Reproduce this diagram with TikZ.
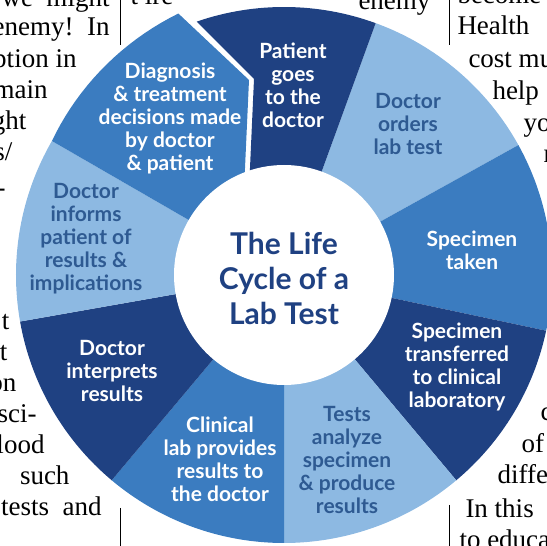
\documentclass[tikz,border=0pt]{standalone}
\usepackage{fontspec}
\setmainfont{Liberation Serif}
\newfontfamily\labfont{Lato}
\definecolor{navy}{RGB}{31,65,130}
\definecolor{mid}{RGB}{59,124,192}
\definecolor{pale}{RGB}{141,185,226}
\definecolor{ink}{RGB}{46,90,146}
\tikzset{
every picture/.style={
line width=1pt
}}

\begin{document}
\begin{tikzpicture}[x=1pt, y=1pt,
page/.style = {font=\fontsize{27}{31}\selectfont, inner sep=0pt},
dark/.style = {align=center, text=white, inner sep=0pt,
  font=\labfont\bfseries\fontsize{21}{23}\selectfont},
light/.style = {dark, text=ink},
title/.style = {align=center, text=navy, inner sep=0pt,
  font=\labfont\bfseries\fontsize{30}{35}\selectfont}]
\useasboundingbox (0,0) rectangle (547,546);
\clip (0,0) rectangle (547,546);

% page text round the chart
\foreach \t/\x/\y [count=\i] in {we~~might/110/539, enemy!~~In/110/510,
  option~in/77/478, main/48/447, ght/27/416, {s/}/13/385, -/6/349,
  t/10/216, t/8/185, on/17/154, sci-/37/123, lood/45/92, such/70/61,
  tests~~and/102/30}
  \node [page, anchor=base east] (l\i) at (\x,\y) {\t};
\foreach \t/\x/\y [count=\i] in {t~ire/130/541, enemy/358/536,
  become/457/542, Health/457/511, cost~mu/468/478, help/492/446,
  yo/523/414, m/543/383, c/540/125, of/521/93, differ/497/62,
  In~this/465/28, to~educa/459/-3}
  \node [page, anchor=base west] (r\i) at (\x,\y) {\t};
\draw (120,546) -- (120,501);
\draw (120,38) -- (120,0);
\draw (449,546) -- (449,501);
\draw (449,41) -- (449,0);

% the wheel
\begin{scope}[shift={(284,271)}]
\foreach \a/\b/\col in {29/70/pale, -12/29/mid, -50/-12/navy, -90/-50/pale,
  -130/-90/mid, -170/-130/navy, 150/190/pale}
  \fill [\col] (0,0) -- (\a:268) arc [start angle=\a, end angle=\b, radius=268] -- cycle;
\fill [navy] (0,0) -- (70:268) arc [start angle=70, end angle=109, radius=268]
  -- (-30,196) -- (-35,85) -- cycle;
\fill [mid] (0,0) -- plot [domain=150:112, samples=20] (\x:{268+14*(150-\x)/38})
  -- (-35,195) -- (-40,85) -- cycle;
\fill [white] (0,0) circle (110);
\end{scope}

\node [dark] (pat) at (293,461) {Patient\\goes\\to the\\doctor};
\node [light] (ord) at (408,422) {Doctor\\orders\\lab test};
\node [dark] (tak) at (472,296) {Specimen\\taken};
\node [dark] (tra) at (457,179) {Specimen\\transferred\\to clinical\\laboratory};
\node [light] (ana) at (347,86) {Tests\\analyze\\specimen\\\& produce\\results};
\node [dark] (cli) at (220,87) {Clinical\\lab provides\\results to\\the doctor};
\node [dark] (int) at (112,175) {Doctor\\interprets\\results};
\node [light] (inf) at (86,307) {Doctor\\informs\\patient of\\results \&\\implications};
\node [dark] (dia) at (170,428) {Diagnosis\\\& treatment\\decisions made\\by doctor\\\& patient};
\node [title] (ttl) at (284,268) {The Life\\Cycle of a\\Lab Test};

\end{tikzpicture}
\end{document}
